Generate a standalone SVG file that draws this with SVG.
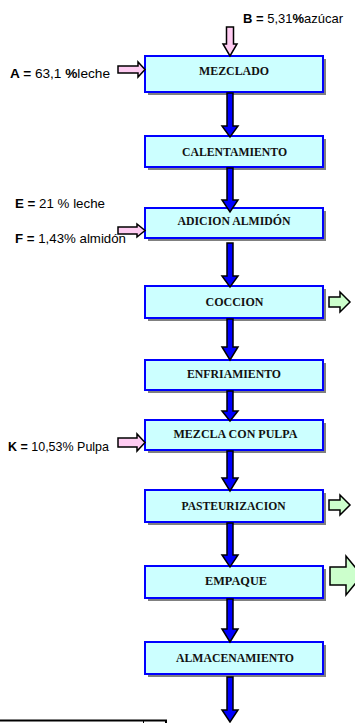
<svg xmlns="http://www.w3.org/2000/svg" width="355" height="723" viewBox="0 0 355 723">
  <style>
    .shadow { fill: #808080; }
    .box { fill: #ccffff; stroke: #0000ff; stroke-width: 2; }
    .label { font-family: "Liberation Serif", "Times New Roman", serif; font-weight: bold; font-size: 13px; fill: #111; text-anchor: middle; }
    .flow { fill: #0000ff; stroke: #000; stroke-width: 1.5; stroke-linejoin: miter; }
    .input { fill: #ffccf2; stroke: #000; stroke-width: 1.5; }
    .output { fill: #ccffcc; stroke: #000; stroke-width: 1.5; }
    .note { font-family: "Liberation Sans", Arial, sans-serif; font-size: 13px; fill: #000; }
    .note tspan.b { font-weight: bold; }
  </style>

  <!-- process steps -->
  <g id="node-mezclado">
    <rect class="shadow" x="148" y="59" width="178" height="36"/>
    <rect class="box" x="145" y="56" width="178" height="36"/>
    <text class="label" x="234" y="75" textLength="70" lengthAdjust="spacingAndGlyphs">MEZCLADO</text>
  </g>
  <g id="node-calentamiento">
    <rect class="shadow" x="148" y="139" width="178" height="31"/>
    <rect class="box" x="145" y="136" width="178" height="31"/>
    <text class="label" x="234.5" y="156" textLength="105" lengthAdjust="spacingAndGlyphs">CALENTAMIENTO</text>
  </g>
  <g id="node-adicion">
    <rect class="shadow" x="148" y="211" width="178" height="30"/>
    <rect class="box" x="145" y="208" width="178" height="30"/>
    <text class="label" x="234" y="225" textLength="113" lengthAdjust="spacingAndGlyphs">ADICION ALMIDÓN</text>
  </g>
  <g id="node-coccion">
    <rect class="shadow" x="148" y="289" width="178" height="32"/>
    <rect class="box" x="145" y="286" width="178" height="32"/>
    <text class="label" x="234.5" y="306" textLength="58" lengthAdjust="spacingAndGlyphs">COCCION</text>
  </g>
  <g id="node-enfriamiento">
    <rect class="shadow" x="148" y="363" width="178" height="30"/>
    <rect class="box" x="145" y="360" width="178" height="30"/>
    <text class="label" x="234" y="378" textLength="94" lengthAdjust="spacingAndGlyphs">ENFRIAMIENTO</text>
  </g>
  <g id="node-mezcla-pulpa">
    <rect class="shadow" x="148" y="423" width="178" height="30"/>
    <rect class="box" x="145" y="420" width="178" height="30"/>
    <text class="label" x="235.5" y="438" textLength="124" lengthAdjust="spacingAndGlyphs">MEZCLA CON PULPA</text>
  </g>
  <g id="node-pasteurizacion">
    <rect class="shadow" x="148" y="493" width="178" height="32"/>
    <rect class="box" x="145" y="490" width="178" height="32"/>
    <text class="label" x="233.5" y="510" textLength="104" lengthAdjust="spacingAndGlyphs">PASTEURIZACION</text>
  </g>
  <g id="node-empaque">
    <rect class="shadow" x="148" y="569" width="178" height="32"/>
    <rect class="box" x="145" y="566" width="178" height="32"/>
    <text class="label" x="236" y="585" textLength="62" lengthAdjust="spacingAndGlyphs">EMPAQUE</text>
  </g>
  <g id="node-almacenamiento">
    <rect class="shadow" x="148" y="645" width="178" height="32"/>
    <rect class="box" x="145" y="642" width="178" height="32"/>
    <text class="label" x="235" y="662" textLength="118" lengthAdjust="spacingAndGlyphs">ALMACENAMIENTO</text>
  </g>

  <!-- connectors between steps -->
  <g id="connectors">
    <polygon class="flow" points="227,93 233,93 233,126 238,126 230,137 222,126 227,126"/>
    <polygon class="flow" points="227,168 233,168 233,200 238,200 230,212 222,200 227,200"/>
    <polygon class="flow" points="227,243 233,243 233,276 238,276 230,287 222,276 227,276"/>
    <polygon class="flow" points="227,319 233,319 233,347 238,347 230,360 222,347 227,347"/>
    <polygon class="flow" points="227,391 233,391 233,411 238,411 230,421 222,411 227,411"/>
    <polygon class="flow" points="227,451 233,451 233,478 238,478 230,491 222,478 227,478"/>
    <polygon class="flow" points="227,523 233,523 233,555 238,555 230,567 222,555 227,555"/>
    <polygon class="flow" points="227,599 233,599 233,629 238,629 230,642 222,629 227,629"/>
    <polygon class="flow" points="227,677 233,677 233,710 238,710 230,722 222,710 227,710"/>

    <!-- inputs -->
    <polygon class="input" points="226.5,27 233.5,27 233.5,44 237,44 230,56 223,44 226.5,44"/>
    <polygon class="input" points="118,66 138,66 138,62 145,69.5 138,77 138,73 118,73"/>
    <polygon class="input" points="118,227 137,227 137,224 145,230.5 137,237 137,234 118,234"/>
    <polygon class="input" points="118,438 137,438 137,434 145,442.5 137,451 137,447 118,447"/>

    <!-- outputs -->
    <polygon class="output" points="329,297 340,297 340,292 350,302 340,312 340,307 329,307"/>
    <polygon class="output" points="329,500 340,500 340,495 350,505 340,515 340,510 329,510"/>
    <polygon class="output" points="330,567 346,567 346,556 362,575.5 346,595 346,585 330,585"/>
  </g>

  <!-- stream notes -->
  <g id="notes">
    <text class="note" x="243" y="22.5" font-size="12" textLength="100" lengthAdjust="spacingAndGlyphs"><tspan class="b">B = </tspan>5,31<tspan class="b">%</tspan>azúcar</text>
    <text class="note" x="10" y="78" textLength="100" lengthAdjust="spacingAndGlyphs"><tspan class="b">A = </tspan>63,1 <tspan class="b">%</tspan>leche</text>
    <text class="note" x="15" y="208" textLength="90" lengthAdjust="spacingAndGlyphs"><tspan class="b">E = </tspan>21 % leche</text>
    <text class="note" x="15" y="243" textLength="111" lengthAdjust="spacingAndGlyphs"><tspan class="b">F = </tspan>1,43% almidón</text>
    <text class="note" x="8" y="451" textLength="101" lengthAdjust="spacingAndGlyphs"><tspan class="b">K = </tspan>10,53% Pulpa</text>
  </g>

  <!-- table edge at the foot -->
  <g id="table-edge">
    <rect x="-2" y="720.5" width="168" height="10" fill="none" stroke="#000" stroke-width="2"/>
    <line x1="143.5" y1="720" x2="143.5" y2="723" stroke="#000" stroke-width="1"/>
  </g>
</svg>
